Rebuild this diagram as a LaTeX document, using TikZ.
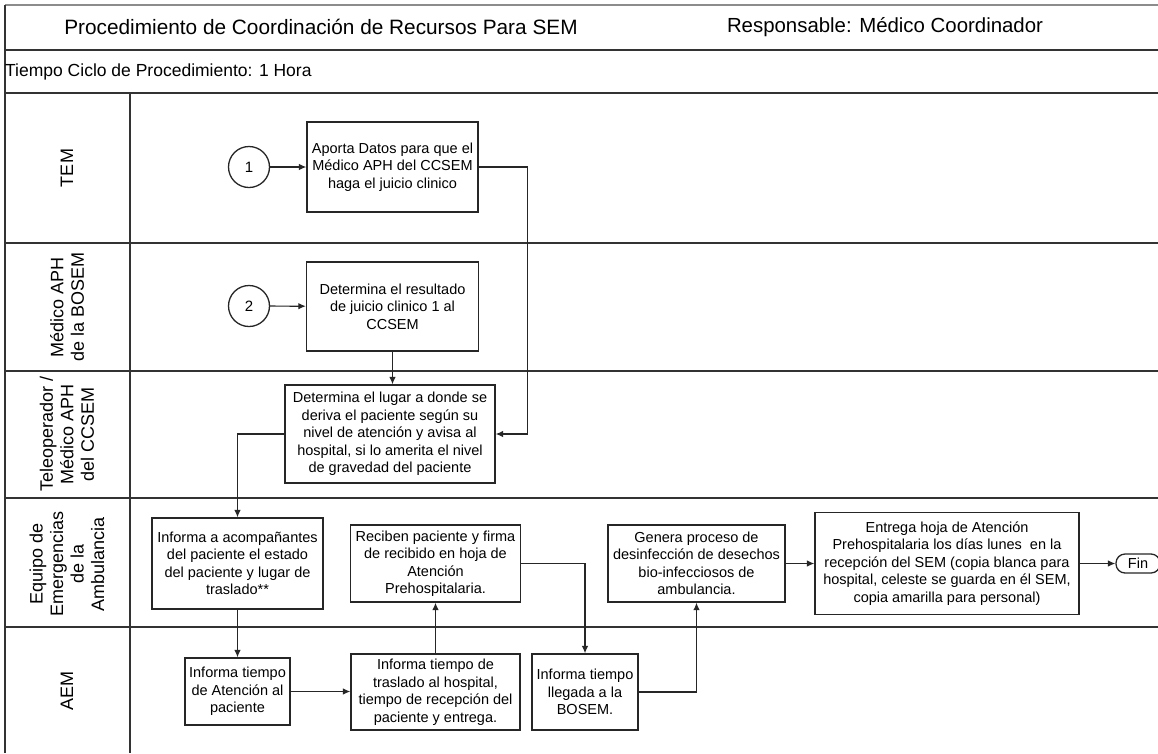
\documentclass[tikz,border=0pt]{standalone}
\usepackage{fontspec}
\setmainfont{Liberation Sans}
\usetikzlibrary{arrows.meta}
\begin{document}
\begin{tikzpicture}[x=1pt,y=-1pt,
  frameline/.style={draw=black!80, line width=1.8pt},
  proc/.style={draw=black!85, line width=1.3pt, align=center, inner sep=1pt,
    font=\fontsize{14.5}{17.5}\selectfont},
  conn/.style={draw=black!85, line width=1.2pt, -{Latex[length=7.5pt,width=6.5pt]}},
  lanelabel/.style={rotate=90, align=center, font=\fontsize{18}{20.5}\selectfont},
  startcircle/.style={draw=black!85, line width=1.3pt, circle, minimum size=41pt, inner sep=0pt,
    font=\fontsize{15}{17}\selectfont},
  terminal/.style={draw=black!85, line width=1.3pt, rounded corners=9pt, minimum width=44pt,
    minimum height=19pt, inner sep=1pt, font=\fontsize{14.5}{17}\selectfont}
]
\useasboundingbox (0,0) rectangle (1158,753);
\fill[white] (0,0) rectangle (1158,753);
% frame
\draw[draw=black!45, line width=1.8pt] (5,5) -- (1158,5);
\draw[frameline] (5,753) -- (5,5);
\draw[frameline] (5,50) -- (1158,50);
\draw[frameline] (5,93) -- (1158,93);
\draw[frameline] (5,243) -- (1158,243);
\draw[frameline] (5,371) -- (1158,371);
\draw[frameline] (5,498) -- (1158,498);
\draw[frameline] (5,627) -- (1158,627);
\draw[frameline] (130,93) -- (130,753);
% header texts
\node (title) at (321,27) {\fontsize{20.8}{22}\selectfont Procedimiento de Coordinación de Recursos Para SEM};
\node (resp) at (885,27) {\fontsize{20.4}{22}\selectfont Responsable: Médico Coordinador};
\node[anchor=west, inner sep=0pt] (ciclo) at (5,72) {\fontsize{17.5}{20}\selectfont Tiempo Ciclo de Procedimiento: 1 Hora};
% lane labels
\node[lanelabel] (l1) at (67,168) {TEM};
\node[lanelabel] (l2) at (67,307) {Médico APH\\de la BOSEM};
\node[lanelabel] (l3) at (67,434) {Teleoperador /\\Médico APH\\del CCSEM};
\node[lanelabel] (l4) at (67,564) {Equipo de\\Emergencias\\de la\\Ambulancia};
\node[lanelabel] (l5) at (67,691) {AEM};
% nodes
\node[startcircle] (c1) at (249,167) {1};
\node[startcircle] (c2) at (249,306) {2};
\node[proc, minimum width=171pt, minimum height=90pt] (b1) at (392.5,167)
  {Aporta Datos para que el\\Médico APH del CCSEM\\haga el juicio clinico};
\node[proc, minimum width=172pt, minimum height=89pt] (b2) at (392.5,306.5)
  {Determina el resultado\\de juicio clinico 1 al\\CCSEM};
\node[proc, minimum width=210pt, minimum height=98pt] (b3) at (390,434)
  {Determina el lugar a donde se\\deriva el paciente según su\\nivel de atención y avisa al\\hospital, si lo amerita el nivel\\de gravedad del paciente};
\node[proc, minimum width=171pt, minimum height=91pt] (b4) at (237.5,563.5)
  {Informa a acompañantes\\del paciente el estado\\del paciente y lugar de\\traslado**};
\node[proc, minimum width=105pt, minimum height=67pt] (b5) at (237.5,691.5)
  {Informa tiempo\\de Atención al\\paciente};
\node[proc, minimum width=169pt, minimum height=76pt] (b6) at (435.5,692)
  {Informa tiempo de\\traslado al hospital,\\tiempo de recepción del\\paciente y entrega.};
\node[proc, minimum width=170pt, minimum height=77pt] (b7) at (435.5,563.5)
  {Reciben paciente y firma\\de recibido en hoja de\\Atención\\Prehospitalaria.};
\node[proc, minimum width=106pt, minimum height=76pt] (b8) at (585,692)
  {Informa tiempo\\llegada a la\\BOSEM.};
\node[proc, minimum width=177pt, minimum height=77pt] (b9) at (696.5,563.5)
  {Genera proceso de\\desinfección de desechos\\bio-infecciosos de\\ambulancia.};
\node[proc, minimum width=264pt, minimum height=102pt] (b10) at (947,563.5)
  {Entrega hoja de Atención\\Prehospitalaria los días lunes\ \ en la\\recepción del SEM (copia blanca para\\hospital, celeste se guarda en él SEM,\\copia amarilla para personal)};
\node[terminal] (fin) at (1138,563.5) {Fin};
% connectors
\draw[conn] (c1) -- (b1);
\draw[conn] (c2) -- (b2);
\draw[conn] (b2.south) -- (b2.south |- b3.north);
\draw[conn] (b1.east) -- ++(49,0) |- (b3.east);
\draw[conn] (b3.west) -| (b4.north);
\draw[conn] (b4) -- (b5);
\draw[conn] (b5) -- (b5 -| b6.west);
\draw[conn] (b6) -- (b7);
\draw[conn] (b7.east) -| (b8.north);
\draw[conn] (b8.east) -| (b9.south);
\draw[conn] (b9) -- (b10);
\draw[conn] (b10) -- (fin);
\end{tikzpicture}
\end{document}
